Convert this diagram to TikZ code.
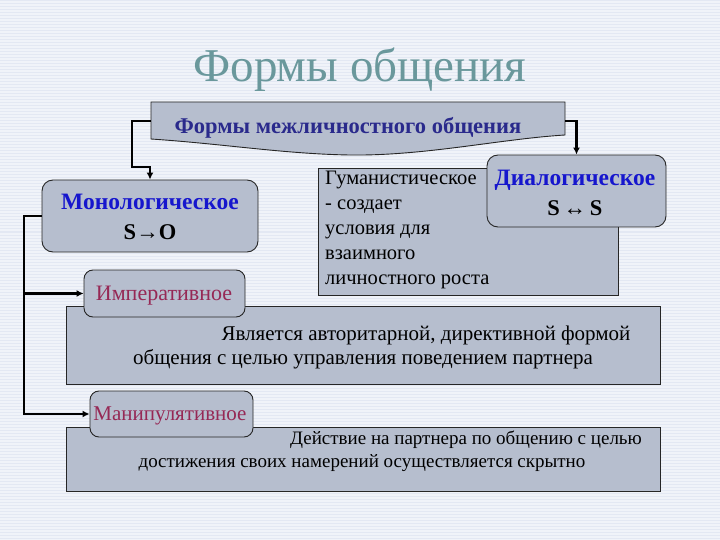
\documentclass[tikz,border=0pt]{standalone}
\usepackage{fontspec}
\setmainfont{Liberation Serif}
\usetikzlibrary{arrows.meta}
\definecolor{bg}{RGB}{240,243,249}
\definecolor{stripe}{RGB}{227,232,243}
\definecolor{boxfill}{RGB}{182,190,206}
\definecolor{titlec}{RGB}{106,152,156}
\definecolor{navy}{RGB}{42,42,140}
\definecolor{blueT}{RGB}{22,22,205}
\definecolor{maroonT}{RGB}{150,40,85}
\begin{document}
\begin{tikzpicture}[x=1pt,y=-1pt,
  rbox/.style={draw=black!85, fill=boxfill, rounded corners=11pt, line width=0.9pt, inner sep=0pt, align=center},
  sbox/.style={draw=black!85, fill=boxfill, line width=0.9pt, inner sep=0pt},
  conn/.style={draw=black, line width=2.3pt, -{Latex[length=7pt,width=7pt]}},
  lbl/.style={inner sep=0pt, anchor=base}
]
\useasboundingbox (0,0) rectangle (720,540);
\fill[bg] (0,0) rectangle (720,540);
\foreach \y in {1,4,...,540} \draw[stripe, line width=1pt] (0,\y) -- (720,\y);

% title
\node[lbl, text=titlec, font=\fontsize{47}{50}\selectfont] (title) at (360,82) {Формы общения};

% top box (wave-bottom shape)
\node[minimum width=414pt, minimum height=38pt, inner sep=0pt] (topbox) at (358,121) {};
\draw[draw=black!85, fill=boxfill, line width=0.9pt]
  (151,102) -- (565,102) -- (565,135)
  .. controls (500,139) and (425,156) .. (350,155)
  .. controls (285,154) and (225,144) .. (151,139) -- cycle;
\node[lbl, text=navy, font=\bfseries\fontsize{22.5}{24}\selectfont] (toptext) at (348,134) {Формы межличностного общения};

% monological
\node[rbox, minimum width=216pt, minimum height=72pt] (mono) at (150,216) {};
\node[lbl, text=blueT, font=\bfseries\fontsize{23.5}{24}\selectfont] (monot) at (150,210) {Монологическое};
\node[lbl, font=\bfseries\fontsize{22.5}{24}\selectfont] (monos) at (150,240) {S→O};

% humanistic box
\node[sbox, minimum width=300pt, minimum height=127pt] (hum) at (468,231.5) {};
\node[font=\fontsize{20.5}{25}\selectfont, inner sep=0pt, anchor=north west, align=left] (humt) at (325,171)
  {Гуманистическое\\- создает\\условия для\\взаимного\\личностного роста};

% dialogical
\node[rbox, minimum width=179pt, minimum height=72pt] (dia) at (576.5,191) {};
\node[lbl, text=blueT, font=\bfseries\fontsize{23.5}{24}\selectfont] (diat) at (575,186) {Диалогическое};
\node[lbl, font=\bfseries\fontsize{22.5}{24}\selectfont] (dias) at (575,215) {S\,↔\,S};

% big box 1
\node[sbox, minimum width=594pt, minimum height=78pt] (big1) at (363,345) {};
\node[lbl, font=\fontsize{21}{24}\selectfont] (b1a) at (426,340) {Является авторитарной, директивной формой};
\node[lbl, font=\fontsize{21}{24}\selectfont] (b1b) at (363,364) {общения с целью управления поведением партнера};

% imperative
\node[rbox, rounded corners=9pt, minimum width=161pt, minimum height=47pt] (imp) at (164.5,293.5) {};
\node[lbl, text=maroonT, font=\fontsize{22}{24}\selectfont] (impt) at (164,300) {Императивное};

% big box 2
\node[sbox, minimum width=594pt, minimum height=64pt] (big2) at (363,459) {};
\node[lbl, font=\fontsize{19}{22}\selectfont] (b2a) at (466,444) {Действие на партнера по общению с целью};
\node[lbl, font=\fontsize{19}{22}\selectfont] (b2b) at (362,467) {достижения своих намерений осуществляется скрытно};

% manipulative
\node[rbox, rounded corners=9pt, minimum width=163pt, minimum height=46pt] (man) at (171.5,414) {};
\node[lbl, text=maroonT, font=\fontsize{21}{24}\selectfont] (mant) at (170,420) {Манипулятивное};

% connectors
\coordinate (lt) at (132,121);
\coordinate (lb) at (132,167);
\draw[conn] (topbox.west) -- (lt) -- (lb) -- (mono.north |- lb) -- (mono.north);
\draw[conn] (topbox.east) -- (dia.north |- topbox.east) -- (dia.north);
\coordinate (vl) at (24,216);
\draw[conn] (mono.west) -- (vl) |- (man.west);
\coordinate (br) at (24,293.5);
\draw[conn] (br) -- (imp.west);
\end{tikzpicture}
\end{document}
